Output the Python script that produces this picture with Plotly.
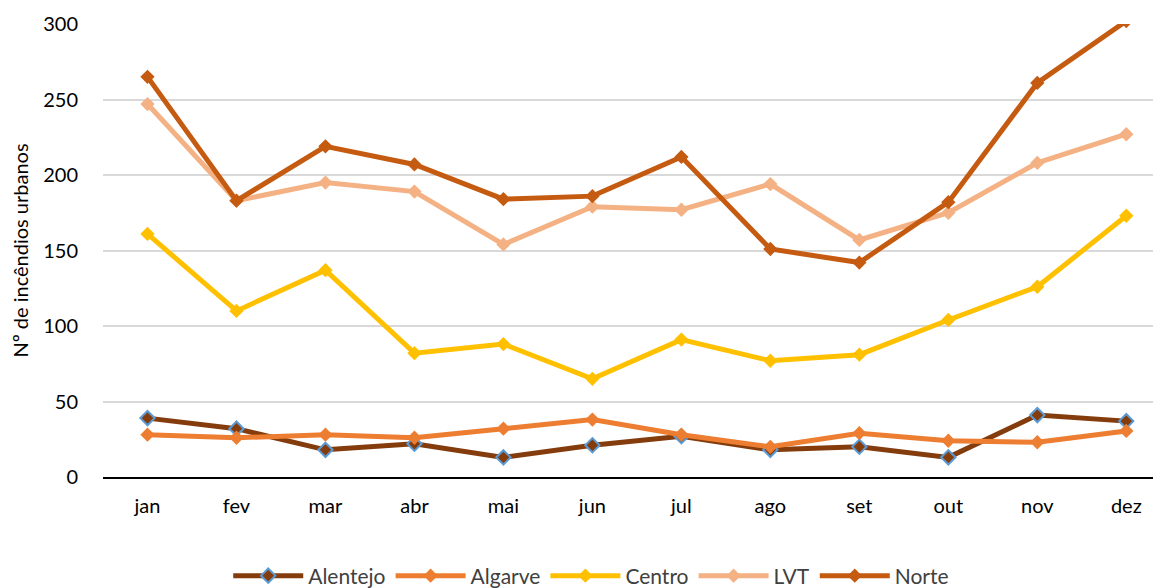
import plotly.graph_objects as go

months = ["jan", "fev", "mar", "abr", "mai", "jun", "jul", "ago", "set", "out", "nov", "dez"]
alentejo = [39, 32, 18, 22, 13, 21, 27, 18, 20, 13, 41, 37]
algarve = [28, 26, 28, 26, 32, 38, 28, 20, 29, 24, 23, 30.5]
centro = [161, 110, 137, 82, 88, 65, 91, 77, 81, 104, 126, 173]
lvt = [247, 183, 195, 189, 154, 179, 177, 194, 157, 175, 208, 227]
norte = [265, 183, 219, 207, 184, 186, 212, 151, 142, 182, 261, 302]

series = [
    ("Alentejo", alentejo, "#843C0C", "#5B9BD5"),
    ("Algarve", algarve, "#ED7D31", "#ED7D31"),
    ("Centro", centro, "#FFC000", "#FFC000"),
    ("LVT", lvt, "#F4B183", "#F4B183"),
    ("Norte", norte, "#C55A11", "#C55A11"),
]

FONT = "Lato, Open Sans, sans-serif"

fig = go.Figure()
for name, vals, col, edge in series:
    fig.add_trace(go.Scatter(
        x=list(range(len(months))), y=vals, name=name, mode="lines+markers",
        line=dict(color=col, width=5),
        marker=dict(symbol="diamond", size=11, color=col,
                    line=dict(color=edge, width=2 if edge != col else 0)),
        cliponaxis=True,
    ))

fig.update_layout(
    width=1161, height=588,
    margin=dict(l=95, r=0, t=16, b=119, autoexpand=False),
    paper_bgcolor="white", plot_bgcolor="white",
    font=dict(family=FONT, size=20, color="#000000"),
    showlegend=True,
    legend=dict(orientation="h", x=0.458, xanchor="center", y=-0.2185, yanchor="middle",
                font=dict(family=FONT, size=21, color="#404040"), itemwidth=70,
                bgcolor="rgba(0,0,0,0)"),
)
fig.update_xaxes(
    tickmode="array", tickvals=list(range(len(months))), ticktext=months,
    range=[-0.5, 11.48], showgrid=False, showline=True, linecolor="black", linewidth=2,
    ticks="outside", ticklen=10, tickcolor="rgba(0,0,0,0)", automargin=False,
    tickfont=dict(family=FONT, size=20, color="#000000"), zeroline=False,
)
fig.update_yaxes(
    range=[0, 300], dtick=50, showgrid=True, gridcolor="#D9D9D9", gridwidth=2,
    zeroline=False, showline=False, automargin=False,
    ticklabelstandoff=24,
    tickfont=dict(family=FONT, size=20, color="#000000"),
    title=dict(text="Nº de incêndios urbanos", font=dict(family=FONT, size=20, color="#000000"), standoff=18),
)

fig.write_html("out.html")
